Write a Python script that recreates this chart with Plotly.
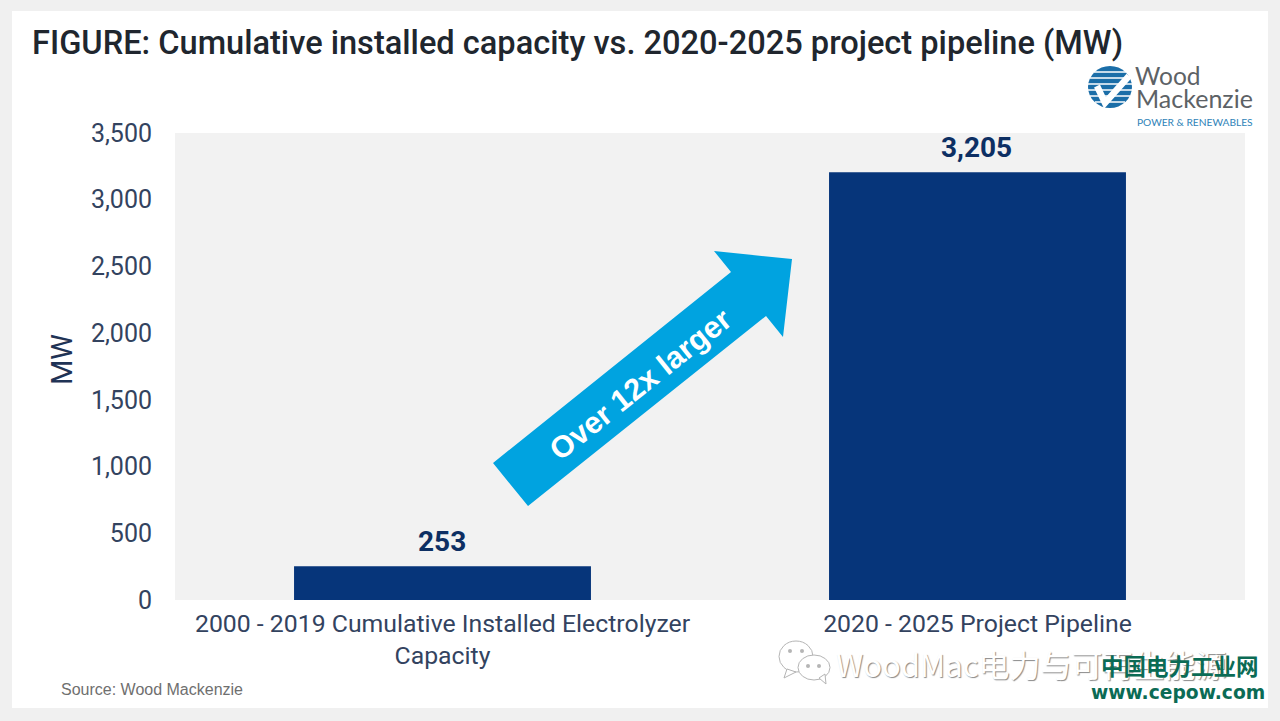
import plotly.graph_objects as go

categories = ["2000 - 2019 Cumulative Installed Electrolyzer<br>Capacity", "2020 - 2025 Project Pipeline"]
values = [253, 3205]
y_ticks = [0, 500, 1000, 1500, 2000, 2500, 3000, 3500]

W, H = 1280, 721
L, R, T, B = 175, 1245, 133, 600

def px(x): return (x - L) / (R - L)
def py(y): return (B - y) / (B - T)
def path(points):
    return "M" + " L".join(f"{px(x):.5f},{py(y):.5f}" for x, y in points) + " Z"
def rect(x0, y0, x1, y1, color, layer="below"):
    return dict(type="rect", xref="paper", yref="paper", x0=px(x0), x1=px(x1), y0=py(y0), y1=py(y1),
                fillcolor=color, line_width=0, layer=layer)
def oval(x0, y0, x1, y1, fill, line="rgba(0,0,0,0)", w=0, layer="above"):
    return dict(type="circle", xref="paper", yref="paper", x0=px(x0), x1=px(x1), y0=py(y0), y1=py(y1),
                fillcolor=fill, line=dict(color=line, width=w), layer=layer)
def poly(points, fill, line="rgba(0,0,0,0)", w=0, closed=True):
    d = path(points)
    if not closed:
        d = d[:-2]
    return dict(type="path", xref="paper", yref="paper", path=d, fillcolor=fill if closed else "rgba(0,0,0,0)",
                line=dict(color=line, width=w), layer="above")
def note(x, y, text, size, color, family="Roboto", xanchor="left", angle=0, **fontkw):
    return dict(xref="paper", yref="paper", x=px(x), y=py(y), text=text, showarrow=False, xanchor=xanchor,
                yanchor="middle", textangle=angle, font=dict(family=family, size=size, color=color, **fontkw))

NAVY = "#06357a"
AXIS = "#33435f"
LOGO = "#1b6ea8"

shapes = [
    rect(12, 11, 1268, 708, "#ffffff"),
    rect(L, T, R, B, "#f2f2f2"),
    # growth arrow
    poly([(493, 463), (528, 506), (766, 316), (783, 337), (792, 259), (714, 251), (731, 272)], "#00a3e0"),
    # logo globe
    oval(1088, 66, 1132, 108, LOGO),
]
for yy, half in [(72, 16), (78, 20), (84, 22), (90, 22), (96, 20), (102, 15)]:
    shapes.append(poly([(1110 - half, yy), (1110 + half, yy)], None, "#ffffff", 1.5, closed=False))
shapes += [
    poly([(1097, 86), (1105, 103), (1129, 76)], None, "#ffffff", 6.5, closed=False),
    # watermark chat icon
    oval(779, 641, 813, 672, "rgba(255,255,255,0.9)", "#b5b5b5", 1),
    poly([(787, 669), (784, 678), (796, 672)], "#ffffff", "#b5b5b5", 1),
    oval(798, 655, 830, 680, "#ffffff", "#b5b5b5", 1),
    poly([(819, 678), (826, 684), (825, 674)], "#ffffff", "#b5b5b5", 1),
    oval(788, 649, 792, 653, "#b5b5b5"),
    oval(800, 649, 804, 653, "#b5b5b5"),
    oval(806, 664, 810, 668, "#b5b5b5"),
    oval(817, 664, 821, 668, "#b5b5b5"),
]

annotations = [
    note(29.5, 43, "FIGURE: Cumulative installed capacity vs. 2020-2025 project pipeline (MW)", 32.6, "#20262e", weight=500),
    note(59, 689, "Source: Wood Mackenzie", 16, "#6f6f6f", family="Liberation Sans", xanchor="left"),
    note(640, 384, "Over 12x larger", 30.5, "#ffffff", family="Liberation Sans", xanchor="center", angle=-38.6, weight="bold"),
    note(62, 360, "MW", 29, "#1f3355", xanchor="center", angle=-90),
    note(1133, 76, "Wood", 24.5, "#5d6266", family="Lato"),
    note(1134, 98, "Mackenzie", 25, "#5d6266", family="Lato"),
    note(1135, 122, "POWER & RENEWABLES", 10.2, "#2f83b8", family="Lato"),
    note(834, 663, "WoodMac电力与可再生能源", 31, "#ffffff", family="Noto Sans CJK SC",
         shadow="1px 1px 1px #8a8a8a"),
    note(1099, 665, "中国电力工业网", 22.5, "#0b6b55", family="Noto Sans CJK SC", weight="bold"),
    note(1089, 692, "www.cepow.com", 18.7, "#0b6b55", family="DejaVu Sans", weight="bold"),
]
for cat, val in zip(categories, values):
    annotations.append(dict(x=cat, y=val, xref="x", yref="y", text=f"{val:,}", showarrow=False,
                            yanchor="bottom", yshift=6, xshift=-1,
                            font=dict(family="Roboto", size=28, color="#0d2f63", weight="bold")))

fig = go.Figure(go.Bar(
    x=categories, y=values, width=0.555, marker=dict(color=NAVY, line_width=0),
))
fig.update_layout(
    width=W, height=H, autosize=False,
    margin=dict(l=L, r=W - R, t=T, b=H - B, pad=0),
    paper_bgcolor="#f0f0f0", plot_bgcolor="rgba(0,0,0,0)",
    showlegend=False, shapes=shapes, annotations=annotations, bargap=0.445,
    font=dict(family="Roboto", color=AXIS),
)
fig.update_xaxes(showline=False, ticks="", showgrid=False, zeroline=False,
                 tickfont=dict(family="Roboto", size=24.8, color=AXIS), ticklabelstandoff=6)
fig.update_yaxes(range=[0, 3500], tickvals=y_ticks, tickformat=",", showgrid=False, zeroline=False,
                 showline=False, ticks="", ticklabelstandoff=22,
                 tickfont=dict(family="Roboto", size=25, color=AXIS))
fig.write_html("out.html", config=dict(displayModeBar=False),
               post_script="document.body.style.margin='0';document.documentElement.style.background='#f0f0f0';")
